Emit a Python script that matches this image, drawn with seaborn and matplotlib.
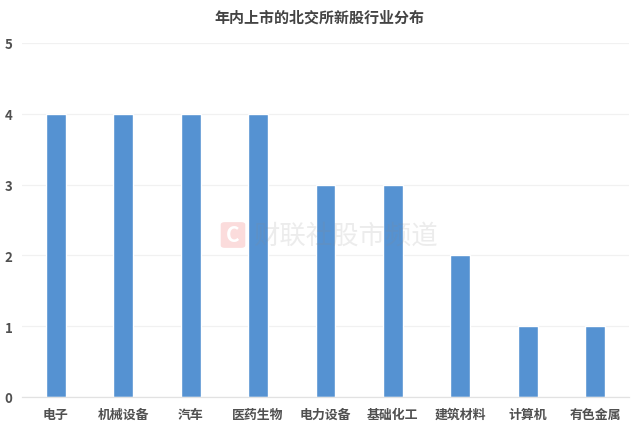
# -*- coding: utf-8 -*-
import pandas as pd
import seaborn as sns
import matplotlib.pyplot as plt
from matplotlib.patches import FancyBboxPatch

categories = ["电子", "机械设备", "汽车", "医药生物", "电力设备", "基础化工", "建筑材料", "计算机", "有色金属"]
counts = [4, 4, 4, 4, 3, 3, 2, 1, 1]
y_ticks = [0, 1, 2, 3, 4, 5]
title = "年内上市的北交所新股行业分布"
watermark = "财联社股市频道"

sns.set_theme(style="white")
plt.rcParams['font.family'] = ['Noto Sans CJK SC', 'DejaVu Sans']

df = pd.DataFrame({"industry": categories, "count": counts})

fig = plt.figure(figsize=(6.4, 4.31), dpi=100)
ax = fig.add_axes([22 / 640, 33 / 431, 607 / 640, 354 / 431])

# gridlines stay behind the bars
ax.set_axisbelow(True)
ax.yaxis.grid(True, color="#f1f1f1", linewidth=0.9)
sns.barplot(data=df, x="industry", y="count", color="#5592d2", saturation=1, width=0.295, ax=ax)

ax.set_xlim(-0.5, 8.5)
ax.set_ylim(0, 5)
ax.set_yticks(y_ticks)
ax.set_xlabel("")
ax.set_ylabel("")
ax.tick_params(axis="both", length=0, labelcolor="#505050")
ax.tick_params(axis="x", labelsize=9.3, pad=7)
ax.tick_params(axis="y", labelsize=9.5, pad=7)
for lab in ax.get_xticklabels() + ax.get_yticklabels():
    lab.set_fontweight("bold")

sns.despine(ax=ax, left=True, top=True, right=True)
ax.spines["bottom"].set_color("#e2e2e2")
ax.spines["bottom"].set_linewidth(0.9)

fig.text(319 / 640, 1 - 17.5 / 431, title, ha="center", va="center", fontsize=10.8,
         fontweight="bold", color="#444444")

# watermark
badge = FancyBboxPatch((222 / 640, 1 - 248 / 431), 22 / 640, 24 / 431,
                       boxstyle="round,pad=0.002,rounding_size=0.006", transform=fig.transFigure,
                       facecolor="#fbdcdc", edgecolor="none", zorder=5)
fig.add_artist(badge)
fig.text(233 / 640, 1 - 236 / 431, "C", ha="center", va="center", fontsize=15,
         fontweight="bold", color="white", zorder=6)
fig.text(253 / 640, 1 - 236 / 431, watermark, ha="left", va="center", fontsize=19,
         color="#8a8a8a", alpha=0.16, zorder=6)

plt.savefig("out.png", dpi=100)
